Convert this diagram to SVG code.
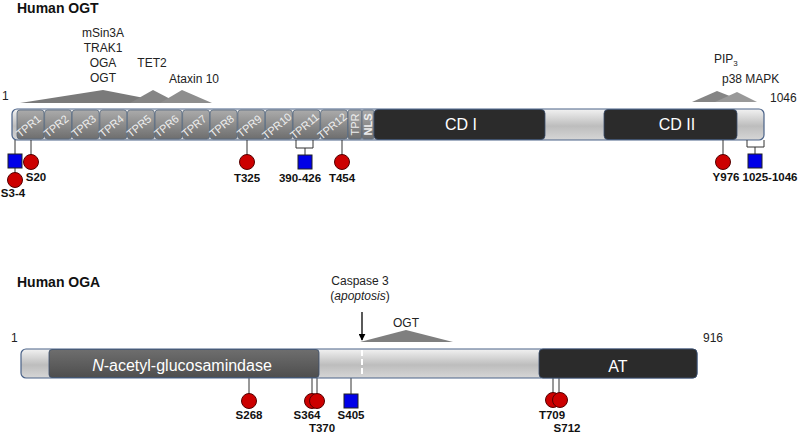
<svg xmlns="http://www.w3.org/2000/svg" width="800" height="433" viewBox="0 0 800 433">
<defs>
<linearGradient id="gBar" x1="0" y1="0" x2="0" y2="1">
<stop offset="0" stop-color="#f2f2f2"/>
<stop offset="0.55" stop-color="#bdbdbd"/>
<stop offset="1" stop-color="#d6d6d6"/>
</linearGradient>
<linearGradient id="gTpr" x1="0" y1="0" x2="0" y2="1">
<stop offset="0" stop-color="#ababab"/>
<stop offset="1" stop-color="#6e6e6e"/>
</linearGradient>
<linearGradient id="gNag" x1="0" y1="0" x2="0" y2="1">
<stop offset="0" stop-color="#6e6e6e"/>
<stop offset="1" stop-color="#4e4e4e"/>
</linearGradient>
<marker id="arr" viewBox="0 0 10 10" refX="9" refY="5" markerWidth="7" markerHeight="7" orient="auto" markerUnits="userSpaceOnUse">
<path d="M0,0 L10,5 L0,10 z" fill="#000"/>
</marker>
</defs>
<style>
.title{font-family:"Liberation Sans",Arial,sans-serif;font-weight:bold;font-size:14px;fill:#111}
.lbl{font-family:"Liberation Sans",Arial,sans-serif;font-size:12px;fill:#222}
.site{font-family:"Liberation Sans",Arial,sans-serif;font-weight:bold;font-size:11.5px;fill:#111;text-anchor:middle}
.dom{font-family:"Liberation Sans",Arial,sans-serif;font-size:16px;fill:#fff;text-anchor:middle}
.tpr{font-family:"Liberation Sans",Arial,sans-serif;font-size:11px;fill:#eeeeee;text-anchor:middle}
.bar{fill:url(#gBar);stroke:#4a6288;stroke-width:1.2}
.tprbox{fill:url(#gTpr);stroke:#56687f;stroke-width:0.8}
.dark{fill:#2b2b2b;stroke:#3a4f6e;stroke-width:0.8}
.stem{stroke:#333;stroke-width:1;fill:none}
.phos{fill:#cc0000;stroke:#550000;stroke-width:1}
.glc{fill:#0000e8;stroke:#222;stroke-width:1}
.mid{text-anchor:middle}
</style>

<!-- ============ OGT ============ -->
<g id="ogt-title"><text class="title" x="17" y="13">Human OGT</text></g>
<g id="ogt-start"><text class="lbl" x="2" y="100">1</text></g>
<g id="ogt-end"><text class="lbl" x="770" y="102">1046</text></g>

<g id="ogt-binding">
<polygon points="20,103 103,90 170,103" fill="#7a7a7a"/>
<polygon points="130,103 153,90 178,103" fill="#858585"/>
<polygon points="160,103 182,90 212,103" fill="#8e8e8e"/>
<text class="lbl mid" x="103" y="37">mSin3A</text>
<text class="lbl mid" x="103" y="52">TRAK1</text>
<text class="lbl mid" x="103" y="67">OGA</text>
<text class="lbl mid" x="103" y="82">OGT</text>
<text class="lbl mid" x="152" y="67">TET2</text>
<text class="lbl mid" x="194" y="83">Ataxin 10</text>
<polygon points="692,102 717,91 745,102" fill="#858585"/>
<polygon points="715,102 737,92 757,102" fill="#999"/>
<text class="lbl" x="714" y="63">PIP<tspan font-size="8" dy="3">3</tspan></text>
<text class="lbl" x="722" y="83">p38 MAPK</text>
</g>

<g id="ogt-bar">
<rect class="bar" x="12" y="109" width="752" height="31" rx="5"/>
</g>
<g id="ogt-tpr">
<rect class="tprbox" x="17" y="110" width="27" height="29" rx="3"/>
<rect class="tprbox" x="44.6" y="110" width="27" height="29" rx="3"/>
<rect class="tprbox" x="72.2" y="110" width="27" height="29" rx="3"/>
<rect class="tprbox" x="99.8" y="110" width="27" height="29" rx="3"/>
<rect class="tprbox" x="127.4" y="110" width="27" height="29" rx="3"/>
<rect class="tprbox" x="155" y="110" width="27" height="29" rx="3"/>
<rect class="tprbox" x="182.6" y="110" width="27" height="29" rx="3"/>
<rect class="tprbox" x="210.2" y="110" width="27" height="29" rx="3"/>
<rect class="tprbox" x="237.8" y="110" width="27" height="29" rx="3"/>
<rect class="tprbox" x="265.4" y="110" width="27" height="29" rx="3"/>
<rect class="tprbox" x="293" y="110" width="27" height="29" rx="3"/>
<rect class="tprbox" x="320.6" y="110" width="27" height="29" rx="3"/>
<rect class="tprbox" x="348" y="110" width="14" height="29" rx="2"/>
<rect class="tprbox" x="362" y="110" width="12" height="29" rx="2"/>
<text class="tpr" transform="translate(31,129) rotate(-40)">TPR1</text>
<text class="tpr" transform="translate(58.6,129) rotate(-40)">TPR2</text>
<text class="tpr" transform="translate(86.2,129) rotate(-40)">TPR3</text>
<text class="tpr" transform="translate(113.8,129) rotate(-40)">TPR4</text>
<text class="tpr" transform="translate(141.4,129) rotate(-40)">TPR5</text>
<text class="tpr" transform="translate(169,129) rotate(-40)">TPR6</text>
<text class="tpr" transform="translate(196.6,129) rotate(-40)">TPR7</text>
<text class="tpr" transform="translate(224.2,129) rotate(-40)">TPR8</text>
<text class="tpr" transform="translate(251.8,129) rotate(-40)">TPR9</text>
<text class="tpr" font-size="10" transform="translate(279.4,129) rotate(-40)">TPR10</text>
<text class="tpr" font-size="10" transform="translate(307,129) rotate(-40)">TPR11</text>
<text class="tpr" font-size="10" transform="translate(334.6,129) rotate(-40)">TPR12</text>
<text class="tpr" font-size="9.5" transform="translate(358.8,124.5) rotate(-90)">TPR</text>
<text class="tpr" font-size="9" font-weight="bold" transform="translate(371.5,124.5) rotate(-90)">NLS</text>
</g>
<g id="ogt-cd1">
<rect class="dark" x="374" y="109.5" width="171" height="30" rx="4"/>
<text class="dom" x="461" y="130">CD I</text>
</g>
<g id="ogt-cd2">
<rect class="dark" x="604" y="109.5" width="133" height="30" rx="4"/>
<text class="dom" x="677" y="130">CD II</text>
</g>

<g id="connectors">
<!-- OGT stems -->
<line class="stem" x1="15" y1="140" x2="15" y2="173"/>
<line class="stem" x1="31" y1="140" x2="31" y2="155"/>
<line class="stem" x1="247" y1="140" x2="247" y2="155"/>
<polyline class="stem" points="296,140 296,148 313,148 313,140"/>
<line class="stem" x1="305" y1="148" x2="305" y2="155"/>
<line class="stem" x1="342" y1="140" x2="342" y2="155"/>
<line class="stem" x1="723" y1="140" x2="723" y2="155"/>
<polyline class="stem" points="747,140 747,147 764,147 764,140"/>
<line class="stem" x1="755" y1="147" x2="755" y2="154"/>
<!-- OGA stems -->
<line class="stem" x1="249" y1="378" x2="249" y2="394"/>
<line class="stem" x1="312" y1="378" x2="312" y2="394"/>
<line class="stem" x1="317" y1="378" x2="317" y2="394"/>
<line class="stem" x1="351" y1="378" x2="351" y2="394"/>
<line class="stem" x1="553" y1="378" x2="553" y2="393"/>
<line class="stem" x1="559" y1="378" x2="559" y2="393"/>
<!-- caspase arrow -->
<line x1="362" y1="312" x2="362" y2="340" stroke="#000" stroke-width="1.3" marker-end="url(#arr)"/>
</g>

<g id="ogt-sites">
<rect class="glc" x="8" y="154" width="14" height="14"/>
<circle class="phos" cx="15" cy="180" r="7.5"/>
<text class="site" x="13" y="197">S3-4</text>
<circle class="phos" cx="31" cy="162" r="7.5"/>
<text class="site" x="36" y="181">S20</text>
<circle class="phos" cx="247" cy="162" r="7.5"/>
<text class="site" x="247" y="182">T325</text>
<rect class="glc" x="298" y="155" width="14" height="14"/>
<text class="site" x="300" y="182">390-426</text>
<circle class="phos" cx="342" cy="162" r="7.5"/>
<text class="site" x="342" y="182">T454</text>
<circle class="phos" cx="723" cy="162" r="7.5"/>
<text class="site" x="726" y="181">Y976</text>
<rect class="glc" x="748" y="154" width="14" height="14"/>
<text class="site" x="770" y="181">1025-1046</text>
</g>

<!-- ============ OGA ============ -->
<g id="oga-title"><text class="title" x="17" y="287">Human OGA</text></g>
<g id="oga-start"><text class="lbl" x="11" y="342">1</text></g>
<g id="oga-end"><text class="lbl" x="703" y="342">916</text></g>

<g id="oga-caspase">
<text class="lbl mid" x="360" y="285">Caspase 3</text>
<text class="lbl mid" x="360" y="300">(<tspan font-style="italic">apoptosis</tspan>)</text>
</g>
<g id="oga-ogt-binding">
<polygon points="360,342 406,330 453,342" fill="#7f7f7f"/>
<text class="lbl mid" x="406" y="327">OGT</text>
</g>

<g id="oga-bar">
<rect class="bar" x="21" y="349" width="676" height="29" rx="5"/>
</g>
<g id="oga-nag">
<rect x="49" y="349.5" width="270" height="28" rx="3" fill="url(#gNag)" stroke="#3a4f6e" stroke-width="0.8"/>
<text class="dom" x="182" y="371"><tspan font-style="italic">N</tspan>-acetyl-glucosamindase</text>
</g>
<g id="oga-cleavage">
<line x1="362" y1="350" x2="362" y2="377" stroke="#fff" stroke-width="2" stroke-dasharray="6,3"/>
</g>
<g id="oga-at">
<rect class="dark" x="539" y="349" width="158" height="29" rx="4"/>
<text class="dom" x="618" y="372">AT</text>
</g>

<g id="oga-sites">
<circle class="phos" cx="249" cy="401" r="7.5"/>
<text class="site" x="249" y="419">S268</text>
<circle class="phos" cx="312" cy="401" r="7.5"/>
<circle class="phos" cx="317" cy="401" r="7.5"/>
<text class="site" x="307" y="419">S364</text>
<text class="site" x="322" y="432">T370</text>
<rect class="glc" x="344" y="394" width="14" height="14"/>
<text class="site" x="351" y="419">S405</text>
<circle class="phos" cx="553" cy="400" r="7.5"/>
<circle class="phos" cx="560" cy="400" r="7.5"/>
<text class="site" x="552" y="419">T709</text>
<text class="site" x="567" y="432">S712</text>
</g>
</svg>
